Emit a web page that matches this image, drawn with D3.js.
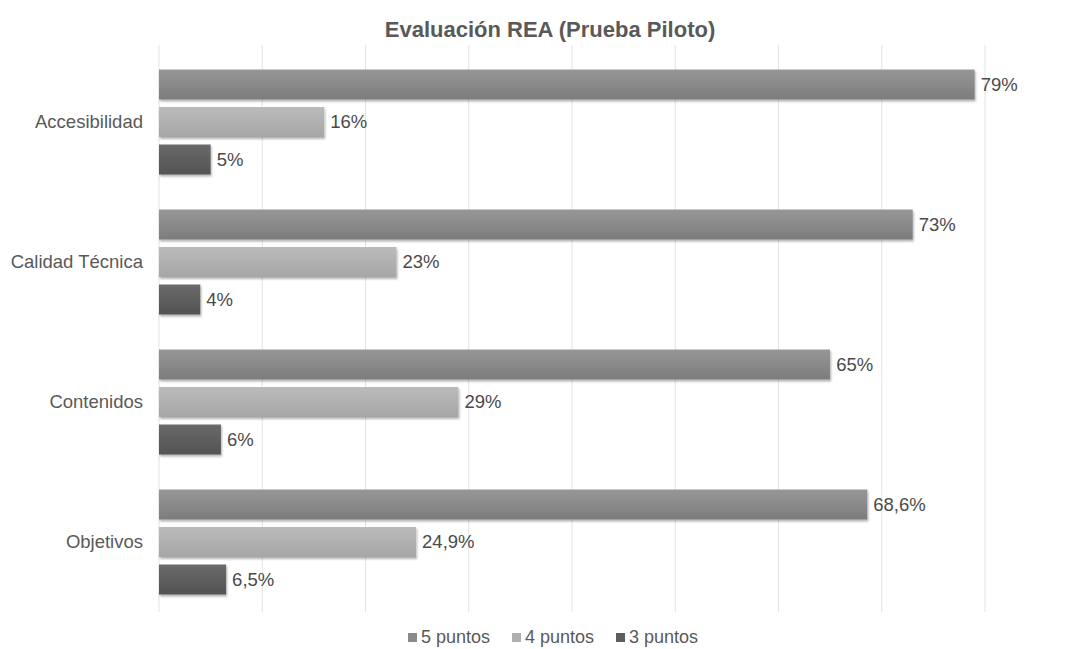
<!DOCTYPE html>
<html>
<head>
<meta charset="utf-8">
<script src="https://cdn.jsdelivr.net/npm/d3@7"></script>
<style>
  body { margin: 0; background: #fff; }
  svg { font-family: Arial, "Liberation Sans", sans-serif; }
</style>
</head>
<body>
<svg id="chart" width="1080" height="649"></svg>
<script>
const categories = ["Accesibilidad", "Calidad Técnica", "Contenidos", "Objetivos"];
const seriesNames = ["5 puntos", "4 puntos", "3 puntos"];
const valores5 = [79, 73, 65, 68.6];
const valores4 = [16, 23, 29, 24.9];
const valores3 = [5, 4, 6, 6.5];
const xTicks = [0, 10, 20, 30, 40, 50, 60, 70, 80];

const seriesValues = [valores5, valores4, valores3];
const colors = ["#8a8a8a", "#b0b0b0", "#5e5e5e"];
const colorsTop = ["#979797", "#bbbbbb", "#6a6a6a"];
const colorsBottom = ["#7c7c7c", "#a6a6a6", "#535353"];

const svg = d3.select("#chart");
const width = +svg.attr("width");
const margin = { top: 52, right: 95, bottom: 37, left: 159 };
const plotBottom = 612;

const locale = d3.formatLocale({ decimal: ",", thousands: ".", grouping: [3], currency: ["", "€"] });
const fmt = v => (Number.isInteger(v) ? String(v) : locale.format(".1f")(v)) + "%";

const x = d3.scaleLinear().domain([0, 80]).range([margin.left, 985]);
const y = d3.scaleBand().domain(categories).range([margin.top, plotBottom]).paddingInner(0.25).paddingOuter(0.125);
const ySub = d3.scaleBand().domain(d3.range(3)).range([0, y.bandwidth()]).paddingInner(0.2);

// degradados y sombra
const defs = svg.append("defs");
colors.forEach((c, i) => {
  const g = defs.append("linearGradient").attr("id", "grad" + i)
    .attr("x1", 0).attr("y1", 0).attr("x2", 0).attr("y2", 1);
  g.append("stop").attr("offset", "0%").attr("stop-color", colorsTop[i]);
  g.append("stop").attr("offset", "100%").attr("stop-color", colorsBottom[i]);
});
const f = defs.append("filter").attr("id", "sombra")
  .attr("x", "-5%").attr("y", "-20%").attr("width", "110%").attr("height", "150%");
f.append("feDropShadow").attr("dx", 1).attr("dy", 2).attr("stdDeviation", 1.2)
  .attr("flood-color", "#000").attr("flood-opacity", 0.3);

// líneas de cuadrícula
svg.append("g")
  .selectAll("line")
  .data(xTicks)
  .join("line")
  .attr("x1", d => x(d)).attr("x2", d => x(d))
  .attr("y1", 45).attr("y2", plotBottom)
  .attr("stroke", "#e3e3e3").attr("stroke-width", 1);

// título
svg.append("text")
  .attr("x", 550).attr("y", 37)
  .attr("text-anchor", "middle")
  .attr("font-size", 22).attr("font-weight", "bold")
  .attr("fill", "#595959")
  .text("Evaluación REA (Prueba Piloto)");

// etiquetas de categoría
svg.append("g")
  .selectAll("text")
  .data(categories)
  .join("text")
  .attr("x", 143)
  .attr("y", d => y(d) + y.bandwidth() / 2)
  .attr("dy", "0.35em")
  .attr("text-anchor", "end")
  .attr("font-size", 18.5).attr("fill", "#595959")
  .text(d => d);

// barras
const groups = svg.append("g").selectAll("g")
  .data(categories)
  .join("g")
  .attr("transform", d => `translate(0,${y(d)})`);

groups.selectAll("rect")
  .data((d, ci) => seriesValues.map((s, si) => ({ si, v: s[ci] })))
  .join("rect")
  .attr("x", x(0))
  .attr("y", d => ySub(d.si))
  .attr("width", d => x(d.v) - x(0))
  .attr("height", ySub.bandwidth())
  .attr("fill", d => `url(#grad${d.si})`)
  .attr("filter", "url(#sombra)");

groups.selectAll("text")
  .data((d, ci) => seriesValues.map((s, si) => ({ si, v: s[ci] })))
  .join("text")
  .attr("x", d => x(d.v) + 6)
  .attr("y", d => ySub(d.si) + ySub.bandwidth() / 2)
  .attr("dy", "0.35em")
  .attr("font-size", 18.5).attr("fill", "#4a4a4a")
  .text(d => fmt(d.v));

// leyenda
const legendX = [408, 512, 616];
const legend = svg.append("g").selectAll("g")
  .data(seriesNames)
  .join("g")
  .attr("transform", (d, i) => `translate(${legendX[i]},637)`);
legend.append("rect")
  .attr("x", 0).attr("y", -4).attr("width", 9).attr("height", 9)
  .attr("fill", (d, i) => colors[i]);
legend.append("text")
  .attr("x", 13).attr("dy", "0.35em")
  .attr("font-size", 18).attr("fill", "#595959")
  .text(d => d);
</script>
</body>
</html>
